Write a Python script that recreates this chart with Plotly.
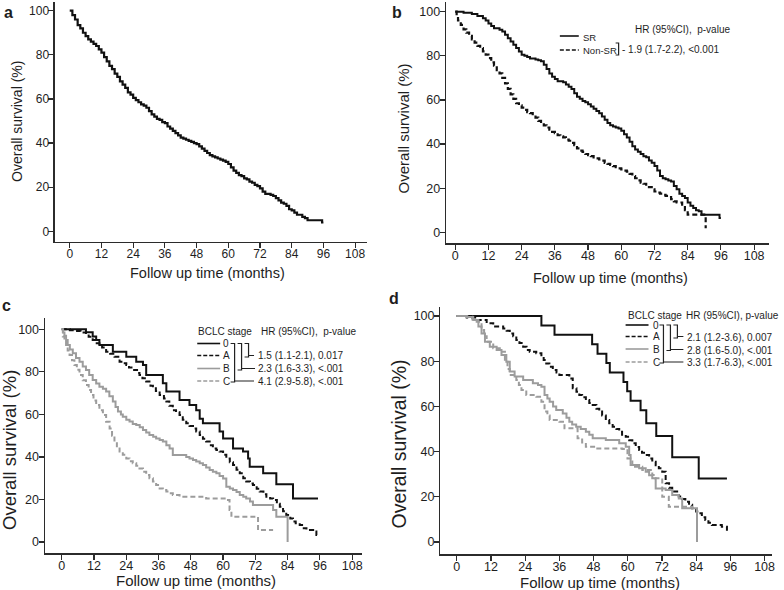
import plotly.graph_objects as go

# ---------------- data ----------------
# Panel a: all patients
a_t = [0,1,2,3,4,5,6,7,8,9,10,11,12,13,14,15,16,17,18,19,20,21,22,23,24,25,26,27,28,29,30,31,32,33,34,35,36,37,38,39,40,41,42,43,44,45,46,47,48,49,50,51,52,53,54,55,56,57,58,59,60,61,62,63,64,65,66,67,68,69,70,71,72,73,74,76,77,78,79,80,81,82,83,84,85,86,88,89,90,95.5,96]
a_s = [100,98,96,93.5,92,90,88.5,87,86,85,84,82.5,81,79,77,75,73.5,71.5,70,68,66.5,65,63,62,60.5,59.5,58.5,57.5,57,56,54.5,53,52,51,50.5,49.5,49,47.5,46.5,45.5,44.5,43.5,42.5,42,41.5,41,40.5,40,39.5,38.5,37.5,36.5,35.5,34.5,34,33.5,33,32.5,32,31.5,30.5,29,27.5,26.5,25.5,25,24,23.5,22.5,22,21,20.5,19.5,18,17,16.5,16,15,14,13,12.5,11.5,10,9.5,8.5,7.5,6.5,6,5,4,4]

# Panel b: SR vs Non-SR
b_sr_t = [0,3,6,8,10,11,12,13,14,16,17,18,19,20,21,22,23,24,25,26,27,29,30,31,32,33,34,35,36,37,39,40,41,42,43,44,45,46,47,48,49,50,51,52,53,54,55,56,57,58,59,60,61,62,63,64,65,66,67,68,69,70,71,72,73,74,75,76,77,78,79,80,81,82,83,84,85,86,87,88,89,95.5,96]
b_sr_s = [100,99.5,99,98,97,96,94.7,93.5,92.5,91.8,91,89.5,88,86.5,85,83.5,82,80.5,80,79.5,78.8,78.3,78,77.5,76,74,72,70.5,69.5,68.5,68,67,66,65,63,61.5,60.5,59.5,59,58,57,56,55,54,52.5,51,49.5,48.5,48,47.5,47,46,44.5,43,41,39,37.5,36.5,35.5,34.5,34,32.5,31.5,30,28,25.5,24.5,24,23.5,23,21,19.5,17.5,16.5,15.5,13.5,12,11,10,9.5,8,6.5,6.5]
b_non_t = [0,0.5,1,2,3,4,5,6,7,8,9,10,11,12,13,14,15,16,17,18,19,20,21,22,23,24,25,26,27,28,29,30,31,32,33,34,35,36,37,38,39,40,41,42,43,44,45,46,47,48,49,50,51,52,53,54,55,56,57,58,59,60,61,62,63,64,65,66,67,68,69,70,71,72,73,74,75,76,77,78,79,80,82,83,84,90.5]
b_non_s = [100,98,96,94,92,90.5,89,87.5,86,84.5,83.5,82,80.5,79,77,75.5,73.5,72,70,67.5,65,62.5,60.5,58.5,57.5,56.5,55.5,54.5,54,53,52,50.5,49.5,48.5,47.5,46.5,45.5,45,44,43.5,43,42,41.5,40.5,39.5,38,37,36.5,35.5,35,34.5,34,33.5,33,32.5,31.5,31,30.5,30,29.5,29,28.5,28,27.5,26.5,25.5,24.5,23.5,22.5,22,21,20.5,19.5,18.5,18,17.5,17,16.5,16,15,14,13.5,12.5,10,8,1.8]

# Panel c: BCLC stage (all)
c0_t = [0,9,11.5,12.8,14,19,24,27.7,30.2,31.4,37.6,38.9,43.8,47.5,50,51.3,52.5,58.7,60,63.7,67.4,69.3,69.9,74.9,79.8,86,95.3]
c0_s = [100,98.6,96.6,95,92.6,89.5,87.1,84.8,83.2,78.5,74.6,70.7,66.8,64.4,62,58,55.8,51.9,48.7,44,42.5,39.3,35.4,32.3,27.1,20.5,20.5]
cA_t = [0,3,5.3,7,9,10,11.5,13,14,15,16.5,18,19.6,21.5,23,24,25,26.4,28,28.9,30,31.4,33,33.9,35,36.4,38,38.9,40,41.3,42.5,43.8,45,46.3,47.5,48.8,50,51.3,52.5,53.7,55,56.2,57.5,58.7,60,61.2,62.5,63.7,65,66.2,67.5,68.6,70,71.1,72.5,73.6,75,76.1,77.5,78.6,80,81.1,82.3,83.5,85,86,87,88.5,90,91,93.5,94.7,95.3]
cA_s = [100,99.5,99.2,98.5,97.6,96.5,95,93.5,92.6,91.5,89.5,88.5,87.1,84.8,84,83.2,82,80.9,79.5,78.5,77,75.4,73.5,72.3,71,69.1,67.5,66,64,62,61,59.7,57.5,55.8,54.5,53.4,52,50.3,48.5,47.2,45.5,44,43.2,42.5,41,39.3,37.5,36.2,34,32.3,30,28.4,27.5,26.8,25,23.7,22.5,21.3,20.5,19.7,18,16.6,14.5,12.7,11,9.6,8.8,8,6.5,5.6,4.9,3.3,3.3]
cB_t = [0,0.5,1,1.6,2.2,3,4.1,5.3,6.6,7.8,9,10.2,11.5,12.8,14,15.3,16.5,17.7,19,20,20.9,22,22.7,24,25.2,26.4,27.7,29,30.2,31.4,32.6,34,35.1,36.4,37.6,38.9,40.1,41.3,45,46.3,47.5,48.8,50,51.3,52.5,53.7,55,56.2,57.5,58.7,60,61.2,62.5,63.7,65,66.2,67.5,68.6,70,71.1,76.1,78.6,79.8,83.8,84]
cB_s = [100,98.5,97,95,92.6,90.5,88.7,86.5,84.8,82.5,80.9,78.5,76.2,74.5,73,72,70.7,68.5,66,63.5,61.3,60,58.9,57.5,56.6,55.5,55,54,52.7,51.5,50.3,49.5,48.7,48,47.2,45.5,44,40.9,40.9,40,39.3,38.5,37.8,37,36.2,35,33.9,33,32.3,31,29.9,26,25.2,24.5,23.5,22.1,21.3,20.5,19,17.4,17.4,15,11.9,11.9,0]
cC_t = [0,0.4,1,1.6,2.2,2.9,3.8,4.7,5.6,6.6,7.8,9,10,10.9,11.8,12.8,14,15.3,16.5,17.8,18.7,19.6,20.5,21.5,22.7,24,25.2,26.4,27.7,28.9,30.2,31.4,32.6,33.9,35.1,36.4,37.6,38.9,40.1,41.3,43.8,53.7,61.2,62.4,63.1,72.4,73,78.6]
cC_s = [100,96.6,94.5,92.6,90,87.9,85.5,83.2,81,78.5,76,73.8,71.5,69.1,66.5,64.4,62,59.7,56.5,53.4,50,47.2,44.5,42.5,41,39.3,38,37,35.8,34.6,33,31.5,30,28.4,26.8,25.2,24.5,23.7,22.9,22.1,21.3,20.5,19.7,15,11.9,11.9,5.6,5.6]

# Panel d: BCLC stage (subgroup)
d0_t = [0,29.7,34.3,47.5,49.4,52.5,53.7,58.5,59.8,61,64.5,66.5,70,75.6,84.9,94.8]
d0_s = [100,95.8,91.7,87.5,83.3,79.2,75,70.8,66.7,62.5,58.3,52.5,46.9,37.5,28.1,28.1]
dA_t = [0,3.5,7,10.5,12.8,16.3,17.5,18.6,19.8,20.9,22,23.3,24.5,25.6,27.9,29.7,30.5,31.4,32.5,33.7,35,36,39.5,40.7,42,43,44,45.3,46.5,47.7,49,50,51,52.3,53.5,54.7,56,57,58,59.3,60.5,61.6,62.8,64,65,66.3,67.5,68.6,69.8,70.9,72.1,73.3,74.5,75.6,77.9,79,80.2,81.5,82.6,84,84.9,86,87.2,88.3,89.5,93,94.8,95.3]
dA_s = [100,99.3,98.2,96.8,95.3,94.5,93.5,92.3,91,89.4,88,86.4,85,84.2,83.5,82,80.5,79,77.5,76.1,75,73.9,72.4,68,66.5,65,64,62.8,61.5,60.6,59,57.7,56,54,52.5,51,50,48.8,47.5,46.6,45,43.7,42,40.7,39.5,38.5,37,35.5,34,32.6,31.1,26,24,22.3,20.1,19,17.8,16.5,14.9,13.5,12.7,11,9.7,8.5,7.5,6.8,4.6,4.6]
dB_t = [0,3.5,5.8,7.6,8.7,9.9,11.6,14,15.7,17.4,18.6,20.3,23.3,26.7,28.5,29.7,30.8,31.8,32.6,33.8,34.9,37.2,38.5,39.5,40.5,41.9,43.5,45.3,46.5,47.7,52.3,57,59.3,60.5,61,64,66.3,67.5,68.6,69.8,73.3,75.6,77.9,79.1,83.7,84.3]
dB_s = [100,99.6,98.2,95.3,92.3,88.6,86.4,85,82.7,79.8,75.4,73.2,71.7,70.2,69.5,68.7,65,63.5,62.1,60,58.4,56.9,55,53.2,52,51,50,48.8,47.5,45.9,45.1,43.7,42.2,38.5,34.1,32.6,31.1,29.5,28.2,23.7,23,20.8,19.3,14.9,14.9,0]
dC_t = [0,3.5,5.5,7,8.7,9.6,10.5,12.8,15.1,16.9,17.8,18.6,20.9,21.8,22.7,24.4,27.9,29.7,30.8,31.8,32.6,36,37.8,41.3,42.4,44,45.3,48.8,58.1,59.9,61.6,65.1,68.6,69.5,72.1,74.4,79.1,82.6,83.5]
dC_s = [100,99.7,98.5,97.5,93.8,91,88.6,85.7,84.2,79.8,76.5,73.9,71.7,69.5,67.3,65,64.3,62.1,57.7,56,54,53.2,50.3,50.3,45.9,44,42.2,41.4,41.2,37,33.3,31.9,29.6,28.2,20,15.6,15.6,14.9,14.9]

x_ticks = [0, 12, 24, 36, 48, 60, 72, 84, 96, 108]
y_ticks = [0, 20, 40, 60, 80, 100]

# ---------------- styling / layout ----------------
W, H = 784, 590
FONT = "Liberation Sans, Arial, sans-serif"
TXT = "#1e1e1e"
BLACK = "#111111"
GRAY = "#9c9c9c"
DASH = "5px,3px"


def X(p):
    return p / W


def Y(p):
    return 1 - p / H


# pixel geometry of each panel: axis extents and tick pixel positions
geom = {
    "a": dict(x=(55, 368), x0=70, x108=356.5, y=(2, 242), y100=10.7, y0=231.3, tick=12),
    "b": dict(x=(447.7, 772), x0=457, x108=757, y=(2, 243.3), y100=11.7, y0=232.3, tick=12.5),
    "c": dict(x=(45, 363), x0=62, x108=353.5, y=(318.3, 553.3), y100=329.3, y0=542, tick=12.5),
    "d": dict(x=(442, 775), x0=458.5, x108=767.5, y=(306.7, 554.3), y100=316, y0=542, tick=12.5),
}

fig = go.Figure()
layout = dict(width=W, height=H, margin=dict(l=0, r=0, t=0, b=0),
              paper_bgcolor="white", plot_bgcolor="white", showlegend=False,
              font=dict(family=FONT, color=TXT))

for i, (k, g) in enumerate(geom.items()):
    n = "" if i == 0 else str(i + 1)
    sx = (g["x108"] - g["x0"]) / 108.0
    xr = [(g["x"][0] - g["x0"]) / sx, (g["x"][1] - g["x0"]) / sx]
    sy = (g["y0"] - g["y100"]) / 100.0
    yr = [(g["y0"] - g["y"][1]) / sy, (g["y0"] - g["y"][0]) / sy]
    common = dict(showline=True, linecolor="#2b2b2b", linewidth=1.3, ticks="outside",
                  ticklen=5, tickwidth=1.2, tickcolor="#2b2b2b", showgrid=False,
                  zeroline=False, tickfont=dict(size=g["tick"], family=FONT, color=TXT),
                  fixedrange=True)
    layout["xaxis" + n] = dict(domain=[X(g["x"][0]), X(g["x"][1])], range=xr,
                               tickvals=x_ticks, anchor="y" + n, ticklabelstandoff=-5, **common)
    layout["yaxis" + n] = dict(domain=[Y(g["y"][1]), Y(g["y"][0])], range=yr,
                               tickvals=y_ticks, anchor="x" + n, ticklabelstandoff=-3, **common)


def km(t, s, ax, color, dash=None, width=2.0):
    fig.add_trace(go.Scatter(x=t, y=s, mode="lines", xaxis="x" + ax, yaxis="y" + ax,
                             line=dict(shape="hv", color=color, width=width, dash=dash),
                             hoverinfo="skip"))


km(a_t, a_s, "", BLACK, width=2.2)
km(b_sr_t, b_sr_s, "2", BLACK, width=2.0)
km(b_non_t, b_non_s, "2", BLACK, dash=DASH, width=2.2)
km(c0_t, c0_s, "3", BLACK)
km(cA_t, cA_s, "3", BLACK, dash=DASH)
km(cB_t, cB_s, "3", GRAY)
km(cC_t, cC_s, "3", GRAY, dash=DASH)
km(d0_t, d0_s, "4", BLACK)
km(dA_t, dA_s, "4", BLACK, dash=DASH)
km(dB_t, dB_s, "4", GRAY)
km(dC_t, dC_s, "4", GRAY, dash=DASH)

ann = []
shapes = []


def text(x, y, s, size=10, xanchor="left", angle=0, bold=False):
    ann.append(dict(x=X(x), y=Y(y), xref="paper", yref="paper", text=("<b>%s</b>" % s) if bold else s,
                    showarrow=False, xanchor=xanchor, yanchor="middle", textangle=angle,
                    font=dict(size=size, family=FONT, color=TXT)))


def seg(x0, y0, x1, y1, color=BLACK, dash=None, width=1.6):
    shapes.append(dict(type="line", xref="paper", yref="paper", x0=X(x0), y0=Y(y0), x1=X(x1), y1=Y(y1),
                       line=dict(color=color, width=width, dash=dash)))


def path(pts, width=1.2):
    d = ""
    for cmd, x, y in pts:
        d += "%s %.5f %.5f " % (cmd, X(x), Y(y))
    shapes.append(dict(type="path", xref="paper", yref="paper", path=d.strip(),
                       line=dict(color="#222222", width=width)))


# panel letters
text(9, 13, "a", size=16, xanchor="center", bold=True)
text(399, 13, "b", size=16, xanchor="center", bold=True)
text(7, 305, "c", size=16, xanchor="center", bold=True)
text(396, 298, "d", size=16, xanchor="center", bold=True)

# axis titles
text(17, 121, "Overall survival (%)", size=14, xanchor="center", angle=-90)
text(208, 273, "Follow up time (months)", size=14.5, xanchor="center")
text(405, 128, "Overall survival (%)", size=15, xanchor="center", angle=-90)
text(613, 278, "Follow up time (months)", size=14.5, xanchor="center")
text(9, 450, "Overall survival (%)", size=18.5, xanchor="center", angle=-90)
text(197, 580, "Follow up time (months)", size=15, xanchor="center")
text(401, 444, "Overall survival (%)", size=19.5, xanchor="center", angle=-90)
text(602, 582, "Follow up time (months)", size=15, xanchor="center")

# legend panel b
text(635, 30, "HR (95%CI),\u00a0 p-value")
seg(562, 36, 581, 36, BLACK, width=1.6)
text(583, 37, "SR", size=9.5)
seg(562, 50, 581, 50, BLACK, dash="4px,2px", width=1.6)
text(583, 50, "Non-SR", size=9.5)
path([("M", 618, 43), ("L", 621, 43), ("L", 621, 55), ("L", 618, 55)])
text(622, 49.5, "- 1.9 (1.7-2.2), <0.001")

# legend panel c
text(197, 331, "BCLC stage")
text(260, 331, "HR (95%CI),\u00a0 p-value")
for yy, col, dsh, lab in [(343.5, BLACK, None, "0"), (355.5, BLACK, "4px,2px", "A"),
                          (368.5, GRAY, None, "B"), (381, GRAY, "4px,2px", "C")]:
    seg(198, yy, 221, yy, col, dash=dsh, width=1.6)
    text(222, yy, lab)
path([("M", 245.5, 343.5), ("L", 249.5, 343.5), ("L", 249.5, 357), ("L", 245.5, 357),
      ("M", 249.5, 355.5), ("L", 255, 355.5)])
path([("M", 238.5, 343.5), ("L", 242.5, 343.5), ("L", 242.5, 370), ("L", 238.5, 370),
      ("M", 242.5, 368.5), ("L", 256, 368.5)])
path([("M", 231.5, 343.5), ("L", 235.5, 343.5), ("L", 235.5, 382), ("L", 231.5, 382),
      ("M", 235.5, 381), ("L", 255, 381)])
text(257, 355.5, "1.5 (1.1-2.1), 0.017")
text(257, 368.5, "2.3 (1.6-3.3), <.001")
text(257, 381, "4.1 (2.9-5.8), <.001")

# legend panel d
text(628, 315, "BCLC stage")
text(687, 315, "HR (95%CI), p-value")
for yy, col, dsh, lab in [(325, BLACK, None, "0"), (336.5, BLACK, "4px,2px", "A"),
                          (349, GRAY, None, "B"), (362, GRAY, "4px,2px", "C")]:
    seg(628, yy, 651, yy, col, dash=dsh, width=1.6)
    text(653, yy, lab)
path([("M", 676, 325), ("L", 680, 325), ("L", 680, 338), ("L", 676, 338),
      ("M", 680, 336.5), ("L", 686, 336.5)])
path([("M", 669, 325), ("L", 673, 325), ("L", 673, 350.5), ("L", 669, 350.5),
      ("M", 673, 349.5), ("L", 686, 349.5)])
path([("M", 662, 325), ("L", 666, 325), ("L", 666, 363), ("L", 662, 363),
      ("M", 666, 362), ("L", 686, 362)])
text(688, 337, "2.1 (1.2-3.6), 0.007")
text(688, 350, "2.8 (1.6-5.0), <.001")
text(688, 362.5, "3.3 (1.7-6.3), <.001")

layout["annotations"] = ann
layout["shapes"] = shapes
fig.update_layout(**layout)
fig.write_html("out.html", config={"displayModeBar": False, "staticPlot": True},
               post_script="document.body.style.margin='0px';document.body.style.padding='0px';")
